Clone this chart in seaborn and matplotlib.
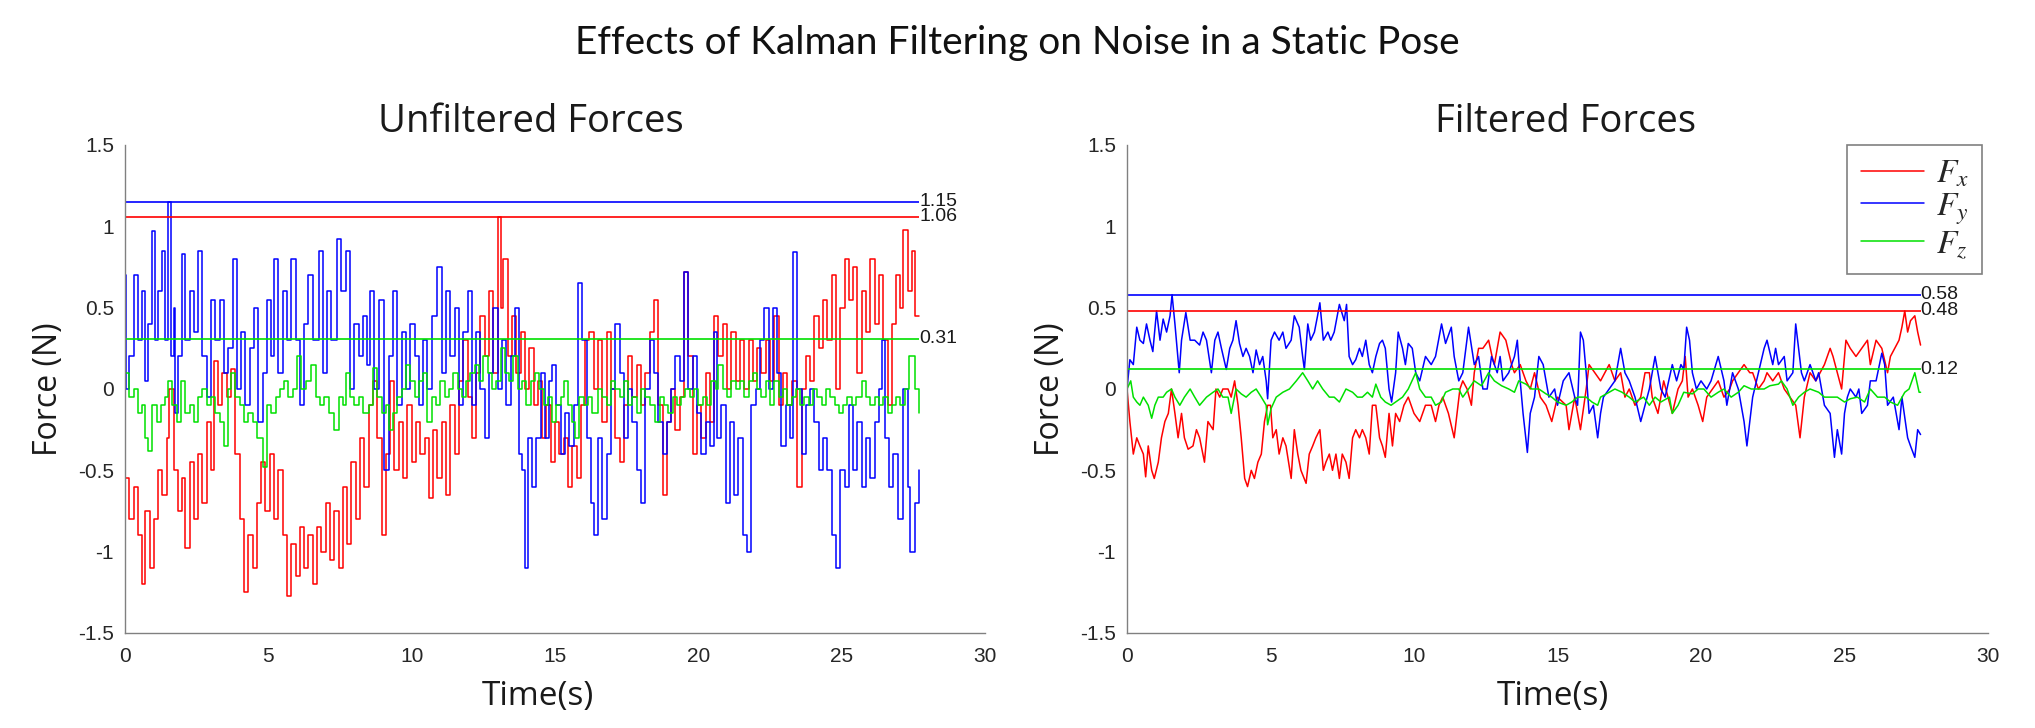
import numpy as np
import pandas as pd
import matplotlib
matplotlib.use("Agg")
import matplotlib.pyplot as plt
import seaborn as sns

# ---- data (time in s, force in N) ----
raw_fx_t = [0.0, 0.15, 0.3, 0.45, 0.58, 0.7, 0.87, 1.0, 1.15, 1.3, 1.45, 1.55, 1.7, 1.85, 2.0, 2.1,
            2.25, 2.4, 2.55, 2.7, 2.85, 3.0, 3.1, 3.25, 3.4, 3.55, 3.7, 3.85, 4.0, 4.15, 4.3, 4.45,
            4.6, 4.75, 4.9, 5.05, 5.2, 5.35, 5.5, 5.65, 5.8, 5.95, 6.1, 6.25, 6.4, 6.55, 6.7, 6.85,
            7.0, 7.15, 7.3, 7.45, 7.6, 7.75, 7.9, 8.05, 8.2, 8.35, 8.5, 8.65, 8.8, 8.95, 9.1, 9.25,
            9.4, 9.55, 9.7, 9.85, 10.0, 10.15, 10.3, 10.45, 10.6, 10.75, 10.9, 11.05, 11.2, 11.35,
            11.5, 11.65, 11.8, 11.95, 12.1, 12.25, 12.4, 12.55, 12.7, 12.85, 13.0, 13.1, 13.2, 13.35,
            13.5, 13.65, 13.8, 13.95, 14.1, 14.25, 14.4, 14.55, 14.7, 14.85, 15.0, 15.15, 15.3, 15.45,
            15.6, 15.75, 15.9, 16.05, 16.2, 16.35, 16.5, 16.65, 16.8, 16.95, 17.1, 17.25, 17.4, 17.55,
            17.7, 17.85, 18.0, 18.15, 18.3, 18.45, 18.6, 18.75, 18.9, 19.05, 19.2, 19.35, 19.5, 19.65,
            19.8, 19.95, 20.1, 20.25, 20.4, 20.55, 20.7, 20.85, 21.0, 21.15, 21.3, 21.45, 21.6, 21.75,
            21.9, 22.05, 22.2, 22.35, 22.5, 22.65, 22.8, 22.95, 23.1, 23.25, 23.45, 23.6, 23.75, 23.9,
            24.05, 24.2, 24.35, 24.5, 24.65, 24.8, 24.95, 25.1, 25.25, 25.4, 25.55, 25.7, 25.85, 26.0,
            26.15, 26.3, 26.45, 26.6, 26.75, 26.9, 27.05, 27.15, 27.3, 27.45, 27.55, 27.7]
raw_fx_v = [-0.55, -0.8, -0.6, -0.9, -1.2, -0.75, -1.1, -0.8, -0.5, -0.65, -0.3, 0.0, -0.5, -0.75, -0.55, -0.98,
            -0.45, -0.8, -0.4, -0.7, -0.2, -0.5, 0.17, -0.1, 0.1, -0.05, 0.12, -0.4, -0.8, -1.25, -0.9, -1.1,
            -0.7, -0.45, -0.75, -0.4, -0.8, -0.5, -0.9, -1.27, -0.95, -1.15, -0.85, -1.1, -0.9, -1.2, -0.85, -1.0,
            -0.7, -1.05, -0.75, -1.1, -0.6, -0.95, -0.45, -0.8, -0.3, -0.6, -0.1, 0.05, -0.3, -0.9, -0.4, 0.05,
            -0.5, -0.2, -0.55, -0.1, -0.45, -0.2, -0.4, -0.3, -0.67, -0.25, -0.55, -0.2, -0.65, -0.1,
            -0.4, 0.05, 0.3, -0.05, -0.3, 0.1, 0.45, 0.2, 0.6, 0.1, 1.06, 0.5, 0.8, 0.2,
            0.45, 0.1, 0.35, 0.0, 0.25, -0.1, 0.05, -0.3, -0.1, -0.45, -0.2, -0.4, -0.3, -0.6,
            -0.35, -0.55, -0.1, 0.3, 0.35, 0.0, 0.3, -0.2, 0.35, 0.0, -0.3, -0.45, -0.1, 0.2,
            -0.05, 0.15, -0.1, 0.1, 0.35, 0.55, -0.1, -0.65, -0.2, 0.0, -0.25, -0.05, 0.72, 0.2,
            -0.4, -0.1, -0.3, 0.1, -0.2, 0.45, 0.2, 0.4, 0.0, 0.35, 0.05, 0.3, 0.0, 0.3,
            0.05, 0.25, 0.1, 0.3, 0.05, 0.45, -0.1, 0.1, -0.1, 0.05, -0.6, 0.0, 0.2, 0.05,
            0.45, 0.25, 0.55, 0.3, 0.7, 0.0, 0.5, 0.8, 0.55, 0.75, 0.1, 0.6, 0.35, 0.8,
            0.4, 0.7, 0.3, -0.1, 0.4, 0.7, 0.5, 0.98, 0.6, 0.85, 0.45, 0.45]

raw_fy_t = [0.0, 0.05, 0.15, 0.3, 0.45, 0.6, 0.7, 0.8, 0.93, 1.05, 1.15, 1.28, 1.4, 1.51, 1.6, 1.7,
            1.75, 1.85, 1.98, 2.1, 2.25, 2.4, 2.56, 2.7, 2.85, 3.0, 3.15, 3.3, 3.45, 3.6, 3.78, 3.9,
            4.05, 4.2, 4.35, 4.5, 4.65, 4.8, 4.95, 5.1, 5.2, 5.35, 5.5, 5.65, 5.8, 5.95, 6.1, 6.25,
            6.4, 6.55, 6.75, 6.9, 7.05, 7.2, 7.4, 7.55, 7.7, 7.85, 8.0, 8.15, 8.3, 8.45, 8.55, 8.7,
            8.85, 9.05, 9.2, 9.35, 9.5, 9.65, 9.8, 9.95, 10.1, 10.25, 10.4, 10.55, 10.7, 10.9, 11.05,
            11.2, 11.35, 11.5, 11.65, 11.8, 11.97, 12.1, 12.25, 12.4, 12.55, 12.7, 12.85, 13.0, 13.15,
            13.3, 13.45, 13.6, 13.75, 13.85, 13.95, 14.05, 14.2, 14.35, 14.5, 14.65, 14.8, 14.9, 15.05,
            15.2, 15.35, 15.5, 15.65, 15.8, 15.95, 16.1, 16.25, 16.35, 16.5, 16.65, 16.8, 16.95, 17.1,
            17.25, 17.4, 17.55, 17.7, 17.85, 18.0, 18.15, 18.3, 18.45, 18.6, 18.75, 18.9, 19.05, 19.2,
            19.35, 19.5, 19.65, 19.8, 19.95, 20.1, 20.25, 20.4, 20.55, 20.65, 20.8, 20.95, 21.1, 21.25,
            21.4, 21.55, 21.7, 21.85, 22.0, 22.15, 22.3, 22.45, 22.6, 22.75, 22.9, 23.05, 23.2, 23.3,
            23.45, 23.6, 23.75, 23.9, 24.05, 24.2, 24.35, 24.5, 24.65, 24.8, 24.95, 25.1, 25.25, 25.4,
            25.55, 25.7, 25.85, 26.0, 26.15, 26.3, 26.4, 26.5, 26.65, 26.8, 26.95, 27.15, 27.3, 27.4,
            27.55, 27.7]
raw_fy_v = [0.7, 0.0, 0.2, 0.7, 0.3, 0.6, 0.05, 0.4, 0.97, 0.3, 0.6, 0.85, 0.3, 1.15, 0.2, 0.5,
            -0.15, 0.2, 0.83, 0.3, 0.6, 0.35, 0.85, 0.2, -0.05, 0.55, 0.3, 0.55, 0.1, 0.25, 0.8, 0.0,
            0.35, -0.1, 0.25, 0.5, -0.2, 0.1, 0.55, 0.2, 0.8, 0.1, 0.6, 0.3, 0.8, 0.3, -0.1, 0.4,
            0.7, 0.3, 0.85, 0.1, 0.6, 0.3, 0.92, 0.6, 0.85, 0.0, 0.4, 0.2, 0.45, 0.15, 0.6, 0.0,
            0.55, -0.5, 0.2, 0.6, -0.1, 0.35, 0.0, 0.4, 0.2, -0.1, 0.3, 0.0, 0.45, 0.75, 0.1,
            0.6, 0.2, 0.5, -0.1, 0.35, 0.6, -0.1, 0.35, 0.0, -0.3, 0.1, 0.5, 0.0, 0.3,
            -0.1, 0.2, 0.5, -0.4, -0.5, -1.1, -0.3, -0.6, -0.3, 0.1, -0.3, 0.05, 0.15, -0.1,
            -0.4, -0.15, -0.35, -0.1, 0.65, 0.3, -0.3, -0.7, -0.9, -0.3, -0.8, -0.4, 0.0, 0.4,
            0.1, -0.3, 0.0, -0.2, -0.5, -0.7, 0.0, 0.3, 0.1, -0.2, -0.4, -0.2, 0.0, 0.2,
            0.05, 0.72, 0.0, 0.2, -0.15, -0.4, -0.2, -0.35, 0.35, -0.3, -0.1, -0.7, -0.2, -0.65,
            -0.3, -0.9, -1.0, -0.1, 0.0, 0.3, 0.5, 0.0, 0.5, 0.1, -0.35, -0.1, -0.3, 0.84,
            0.0, -0.4, -0.1, 0.0, -0.2, -0.5, -0.3, -0.5, -0.9, -1.1, -0.5, -0.6, -0.1, -0.5,
            -0.2, -0.6, -0.3, -0.55, -0.2, 0.0, 0.3, -0.3, -0.6, -0.4, -0.8, 0.0, -0.6, -1.0,
            -0.7, -0.5]

raw_fz_t = [0.0, 0.15, 0.3, 0.45, 0.6, 0.7, 0.8, 0.95, 1.1, 1.25, 1.4, 1.5, 1.65, 1.8, 1.95, 2.1,
            2.25, 2.4, 2.55, 2.7, 2.85, 3.0, 3.15, 3.3, 3.45, 3.6, 3.7, 3.85, 4.0, 4.15, 4.3, 4.45,
            4.6, 4.8, 4.95, 5.1, 5.25, 5.4, 5.55, 5.7, 5.85, 6.0, 6.15, 6.3, 6.5, 6.65, 6.8, 6.95,
            7.1, 7.3, 7.45, 7.6, 7.7, 7.85, 8.0, 8.15, 8.3, 8.5, 8.65, 8.8, 8.95, 9.1, 9.2, 9.35,
            9.5, 9.65, 9.8, 9.95, 10.1, 10.25, 10.4, 10.55, 10.7, 10.85, 11.0, 11.15, 11.3, 11.45,
            11.6, 11.75, 11.9, 12.05, 12.2, 12.35, 12.5, 12.65, 12.8, 12.95, 13.1, 13.25, 13.4, 13.55,
            13.7, 13.85, 14.0, 14.15, 14.3, 14.45, 14.6, 14.75, 14.9, 15.05, 15.2, 15.3, 15.45, 15.6,
            15.7, 15.85, 16.0, 16.15, 16.3, 16.5, 16.65, 16.8, 16.95, 17.1, 17.25, 17.4, 17.55, 17.7,
            17.85, 18.0, 18.15, 18.3, 18.5, 18.65, 18.8, 18.95, 19.1, 19.25, 19.4, 19.55, 19.7, 19.85,
            20.0, 20.15, 20.3, 20.45, 20.6, 20.7, 20.85, 21.0, 21.15, 21.3, 21.45, 21.6, 21.75, 21.9,
            22.05, 22.2, 22.35, 22.5, 22.65, 22.8, 22.95, 23.1, 23.25, 23.4, 23.55, 23.7, 23.85, 24.0,
            24.15, 24.3, 24.45, 24.6, 24.75, 24.9, 25.05, 25.2, 25.35, 25.5, 25.7, 25.85, 26.0, 26.15,
            26.3, 26.45, 26.6, 26.75, 26.9, 27.05, 27.2, 27.35, 27.45, 27.55, 27.7]
raw_fz_v = [0.1, -0.05, 0.0, -0.15, -0.1, -0.3, -0.38, -0.1, -0.2, -0.1, -0.05, 0.05, -0.1, -0.2, 0.05, -0.15,
            -0.1, -0.2, -0.05, 0.0, -0.1, -0.05, -0.15, -0.2, -0.35, 0.0, 0.1, -0.05, -0.1, -0.2, -0.15, -0.2,
            -0.3, -0.48, -0.1, -0.15, -0.05, 0.0, 0.05, -0.05, 0.0, 0.2, 0.0, 0.05, 0.15, -0.05, -0.1, -0.05,
            -0.15, -0.25, -0.05, -0.1, 0.1, -0.05, -0.1, -0.05, -0.15, -0.1, 0.13, -0.05, -0.15, -0.1, -0.25, -0.15,
            -0.05, 0.0, 0.15, 0.05, -0.05, 0.05, 0.1, -0.2, -0.05, -0.1, 0.05, -0.05, 0.0, 0.1,
            0.0, -0.05, 0.05, 0.1, 0.15, 0.05, 0.2, 0.1, 0.0, 0.05, 0.25, 0.1, 0.05, 0.2,
            0.0, 0.05, -0.1, 0.05, 0.1, 0.0, -0.1, -0.05, -0.2, -0.1, -0.05, 0.05, -0.1, -0.2,
            -0.3, -0.05, -0.1, -0.05, -0.15, 0.0, -0.05, -0.1, 0.05, 0.0, -0.05, 0.05, -0.1, -0.05,
            -0.15, 0.0, -0.05, -0.1, -0.2, -0.05, -0.1, -0.15, -0.05, -0.1, -0.05, 0.0, -0.05, 0.0,
            -0.1, -0.05, -0.1, 0.05, 0.0, 0.15, 0.0, -0.05, 0.05, 0.0, 0.05, -0.05, 0.05, 0.1,
            0.0, -0.05, 0.05, -0.1, 0.05, -0.05, 0.0, -0.1, -0.05, 0.0, -0.1, -0.05, -0.1, 0.0,
            -0.05, -0.1, 0.0, -0.05, -0.1, -0.15, -0.1, -0.05, -0.1, -0.05, 0.05, -0.05, -0.1, -0.05,
            -0.1, -0.05, -0.15, -0.1, -0.05, -0.1, 0.0, 0.2, 0.2, 0.0, -0.15]

flt_fx_t = [0.0, 0.1, 0.22, 0.34, 0.45, 0.57, 0.65, 0.74, 0.86, 0.95, 1.09, 1.2, 1.32, 1.44, 1.55, 1.67,
            1.78, 1.9, 2.0, 2.13, 2.3, 2.42, 2.53, 2.7, 2.82, 3.0, 3.1, 3.23, 3.34, 3.52, 3.63, 3.75,
            3.87, 3.98, 4.1, 4.2, 4.33, 4.44, 4.56, 4.68, 4.79, 4.9, 5.0, 5.08, 5.2, 5.3, 5.43, 5.54,
            5.72, 5.83, 5.95, 6.06, 6.24, 6.35, 6.47, 6.58, 6.72, 6.84, 6.93, 7.05, 7.16, 7.28, 7.4,
            7.5, 7.63, 7.74, 7.86, 7.97, 8.1, 8.2, 8.32, 8.44, 8.55, 8.67, 8.8, 8.9, 9.0, 9.13, 9.25,
            9.36, 9.5, 9.65, 9.8, 10.0, 10.2, 10.4, 10.6, 10.75, 10.87, 11.0, 11.2, 11.4, 11.6, 11.7,
            11.85, 12.0, 12.1, 12.25, 12.4, 12.6, 12.72, 12.8, 13.0, 13.2, 13.4, 13.5, 13.7, 13.9,
            14.05, 14.2, 14.4, 14.6, 14.8, 15.0, 15.3, 15.4, 15.6, 15.8, 16.0, 16.1, 16.3, 16.5,
            16.65, 16.8, 17.0, 17.2, 17.35, 17.5, 17.7, 17.9, 18.05, 18.2, 18.3, 18.5, 18.7, 18.85,
            19.0, 19.2, 19.35, 19.45, 19.55, 19.7, 19.9, 20.06, 20.2, 20.4, 20.6, 20.8, 21.0, 21.1,
            21.3, 21.5, 21.7, 21.8, 22.0, 22.2, 22.3, 22.5, 22.7, 22.9, 23.1, 23.3, 23.45, 23.6,
            23.8, 24.0, 24.3, 24.5, 24.6, 24.75, 24.9, 25.05, 25.2, 25.4, 25.6, 25.8, 25.9, 26.1,
            26.3, 26.5, 26.6, 26.9, 27.0, 27.1, 27.2, 27.3, 27.45, 27.55, 27.65]
flt_fx_v = [0.0, -0.2, -0.4, -0.3, -0.35, -0.4, -0.54, -0.35, -0.5, -0.55, -0.45, -0.3, -0.2, -0.15, 0.0, -0.15,
            -0.3, -0.15, -0.3, -0.37, -0.35, -0.25, -0.3, -0.45, -0.2, -0.25, 0.0, -0.05, 0.0, 0.0, -0.05, 0.05,
            -0.1, -0.3, -0.55, -0.6, -0.5, -0.55, -0.45, -0.4, -0.2, -0.1, -0.1, -0.3, -0.25, -0.4, -0.3, -0.35,
            -0.55, -0.25, -0.4, -0.5, -0.58, -0.4, -0.35, -0.3, -0.25, -0.5, -0.45, -0.4, -0.5, -0.4, -0.55,
            -0.4, -0.45, -0.55, -0.3, -0.25, -0.3, -0.25, -0.3, -0.4, -0.1, -0.1, -0.3, -0.35, -0.42, -0.15, -0.35,
            -0.15, -0.2, -0.1, -0.05, -0.15, -0.2, -0.1, -0.1, -0.2, -0.1, -0.05, -0.15, -0.3, 0.0, 0.05,
            0.0, -0.1, 0.1, 0.25, 0.25, 0.3, 0.2, 0.15, 0.35, 0.3, 0.15, 0.1, 0.15, 0.05,
            0.0, 0.1, -0.05, -0.1, -0.2, -0.05, -0.1, -0.25, -0.05, -0.25, 0.0, 0.15, 0.1, 0.05,
            0.1, 0.15, 0.05, 0.1, -0.05, 0.0, -0.1, -0.05, 0.1, 0.1, -0.05, -0.15, 0.05, -0.05,
            -0.15, 0.0, 0.05, 0.2, -0.05, 0.0, -0.1, -0.2, -0.05, 0.0, 0.05, -0.05, 0.0, 0.05,
            0.1, 0.15, 0.1, 0.1, 0.0, 0.05, 0.1, 0.05, 0.1, 0.0, -0.05, -0.1, -0.3, -0.05,
            0.1, 0.05, 0.15, 0.25, 0.2, 0.1, 0.0, 0.3, 0.25, 0.2, 0.25, 0.3, 0.15, 0.3,
            0.25, 0.1, 0.2, 0.3, 0.38, 0.48, 0.35, 0.42, 0.45, 0.35, 0.27]

flt_fy_t = [0.0, 0.1, 0.22, 0.34, 0.45, 0.57, 0.68, 0.8, 0.9, 1.03, 1.15, 1.26, 1.38, 1.5, 1.57, 1.67,
            1.72, 1.82, 1.9, 2.05, 2.2, 2.36, 2.53, 2.65, 2.77, 2.94, 3.06, 3.17, 3.29, 3.46, 3.58, 3.69,
            3.8, 3.92, 4.04, 4.15, 4.27, 4.39, 4.5, 4.62, 4.73, 4.85, 4.9, 5.02, 5.14, 5.3, 5.43, 5.54,
            5.72, 5.83, 6.0, 6.12, 6.18, 6.3, 6.4, 6.53, 6.64, 6.72, 6.84, 7.0, 7.1, 7.22, 7.4, 7.57,
            7.65, 7.74, 7.86, 7.97, 8.1, 8.2, 8.32, 8.44, 8.55, 8.67, 8.8, 8.9, 9.0, 9.13, 9.22, 9.36,
            9.45, 9.6, 9.7, 9.8, 9.94, 10.06, 10.2, 10.4, 10.6, 10.75, 10.96, 11.1, 11.3, 11.4, 11.56,
            11.7, 11.9, 12.1, 12.25, 12.4, 12.55, 12.7, 12.9, 13.0, 13.1, 13.3, 13.5, 13.6, 13.7, 13.8,
            13.95, 14.05, 14.2, 14.35, 14.5, 14.7, 14.9, 15.0, 15.2, 15.4, 15.6, 15.7, 15.8, 15.9, 16.0,
            16.1, 16.25, 16.4, 16.5, 16.6, 16.8, 17.0, 17.2, 17.35, 17.5, 17.7, 17.9, 18.05, 18.2, 18.4,
            18.6, 18.75, 19.0, 19.15, 19.3, 19.4, 19.5, 19.6, 19.7, 19.84, 20.0, 20.2, 20.35, 20.6, 20.8,
            20.9, 21.1, 21.3, 21.5, 21.6, 21.8, 22.0, 22.2, 22.3, 22.5, 22.6, 22.7, 22.9, 23.0, 23.2,
            23.3, 23.5, 23.6, 23.8, 24.0, 24.1, 24.3, 24.5, 24.65, 24.75, 24.9, 25.0, 25.1, 25.2, 25.4,
            25.5, 25.6, 25.8, 25.9, 26.1, 26.3, 26.4, 26.5, 26.7, 26.9, 27.0, 27.2, 27.3, 27.45, 27.55,
            27.65]
flt_fy_v = [0.0, 0.18, 0.15, 0.38, 0.3, 0.28, 0.4, 0.3, 0.23, 0.48, 0.3, 0.43, 0.35, 0.45, 0.58, 0.4,
            0.3, 0.1, 0.3, 0.47, 0.3, 0.3, 0.27, 0.35, 0.3, 0.1, 0.3, 0.35, 0.25, 0.12, 0.25, 0.3,
            0.42, 0.28, 0.2, 0.25, 0.2, 0.1, 0.24, 0.15, 0.2, 0.05, -0.06, 0.3, 0.35, 0.3, 0.35, 0.25,
            0.3, 0.45, 0.38, 0.2, 0.12, 0.4, 0.3, 0.35, 0.45, 0.53, 0.3, 0.35, 0.3, 0.35, 0.52, 0.42,
            0.52, 0.2, 0.15, 0.18, 0.25, 0.2, 0.3, 0.15, 0.1, 0.2, 0.28, 0.3, 0.25, 0.0, -0.08, 0.1,
            0.35, 0.25, 0.15, 0.28, 0.25, 0.1, 0.05, 0.2, 0.15, 0.2, 0.4, 0.28, 0.38, 0.2, 0.05,
            0.1, 0.38, 0.15, 0.2, 0.0, 0.0, 0.2, 0.1, 0.2, 0.05, 0.1, 0.2, 0.3, 0.05, -0.15,
            -0.39, -0.15, -0.05, 0.2, 0.15, -0.05, 0.0, -0.1, 0.05, 0.1, -0.05, -0.1, 0.35, 0.3, 0.1,
            -0.15, -0.1, -0.3, -0.15, -0.05, 0.0, 0.05, 0.25, 0.1, 0.05, -0.05, -0.2, -0.1, 0.0, 0.2,
            0.0, -0.05, 0.15, 0.05, 0.15, 0.12, 0.38, 0.3, 0.1, 0.0, 0.05, 0.0, 0.05, 0.2, 0.05,
            -0.1, 0.1, 0.0, -0.2, -0.35, -0.05, 0.1, 0.25, 0.3, 0.15, 0.25, 0.15, 0.2, 0.05, 0.1,
            0.4, 0.1, 0.05, 0.15, 0.05, 0.1, -0.1, -0.15, -0.42, -0.25, -0.4, -0.15, -0.05, 0.0, -0.05,
            0.0, -0.15, -0.1, 0.05, 0.05, 0.22, 0.15, -0.1, -0.05, -0.25, -0.05, -0.3, -0.35, -0.42, -0.25,
            -0.28]

flt_fz_t = [0.0, 0.13, 0.22, 0.34, 0.45, 0.57, 0.74, 0.86, 0.97, 1.09, 1.26, 1.38, 1.55, 1.67, 1.84, 2.0,
            2.2, 2.36, 2.53, 2.77, 3.0, 3.17, 3.34, 3.52, 3.63, 3.8, 3.98, 4.15, 4.33, 4.5, 4.68, 4.85,
            4.9, 5.02, 5.2, 5.43, 5.66, 5.9, 6.12, 6.3, 6.47, 6.64, 6.82, 7.05, 7.22, 7.4, 7.63, 7.86,
            8.03, 8.2, 8.38, 8.55, 8.67, 8.84, 9.0, 9.2, 9.36, 9.6, 9.8, 10.06, 10.2, 10.4, 10.6, 10.75,
            10.95, 11.1, 11.35, 11.56, 11.7, 11.9, 12.1, 12.35, 12.6, 12.8, 13.05, 13.3, 13.5, 13.65,
            13.9, 14.1, 14.35, 14.6, 14.8, 15.0, 15.3, 15.5, 15.7, 16.0, 16.2, 16.4, 16.5, 16.8, 17.0,
            17.25, 17.5, 17.7, 18.0, 18.2, 18.4, 18.6, 18.9, 19.0, 19.2, 19.4, 19.7, 19.9, 20.1, 20.35,
            20.6, 20.8, 21.05, 21.3, 21.5, 21.75, 22.0, 22.2, 22.4, 22.7, 22.8, 23.0, 23.2, 23.4, 23.6,
            23.8, 24.1, 24.3, 24.5, 24.75, 25.0, 25.2, 25.45, 25.7, 25.9, 26.15, 26.4, 26.6, 26.85,
            27.1, 27.25, 27.45, 27.6, 27.65]
flt_fz_v = [0.0, 0.05, -0.05, -0.08, -0.1, -0.05, -0.1, -0.18, -0.1, -0.05, -0.05, -0.02, 0.0, -0.05, -0.1, -0.05,
            0.0, -0.05, -0.1, -0.05, -0.02, 0.0, -0.05, -0.05, -0.15, 0.0, -0.03, -0.05, -0.02, 0.0, -0.05, -0.1,
            -0.22, -0.12, -0.05, -0.02, 0.0, 0.05, 0.1, 0.05, 0.0, 0.05, 0.0, -0.05, -0.05, -0.08, 0.0, -0.02,
            -0.05, -0.05, -0.02, -0.05, 0.03, -0.05, -0.08, -0.1, -0.08, -0.05, 0.0, 0.1, 0.0, -0.05, -0.05, -0.1,
            -0.08, -0.02, 0.0, 0.0, -0.05, 0.0, 0.05, 0.02, 0.1, 0.05, 0.02, 0.0, -0.02, 0.05,
            0.03, 0.0, 0.0, -0.03, -0.05, -0.08, -0.1, -0.08, -0.05, -0.05, -0.08, -0.1, -0.05, -0.02, 0.0,
            -0.02, -0.05, -0.08, -0.05, -0.1, -0.05, -0.08, -0.05, -0.15, -0.1, -0.02, -0.03, 0.0, 0.0, -0.05,
            -0.02, 0.0, -0.05, -0.02, 0.02, 0.0, 0.0, 0.0, 0.02, 0.03, 0.05, 0.0, -0.1, -0.05, -0.02,
            0.0, -0.02, -0.05, -0.05, -0.05, -0.08, -0.06, -0.05, -0.08, 0.0, -0.05, -0.05, -0.08, -0.1,
            -0.02, 0.0, 0.1, -0.02, -0.02]

# peak markers shown on each panel (Fx, Fy, Fz)
raw_peaks = [1.06, 1.15, 0.31]
flt_peaks = [0.48, 0.58, 0.12]
peak_labels_raw = ["1.06", "1.15", "0.31"]
peak_labels_flt = ["0.48", "0.58", "0.12"]

series_names = [r"$F_x$", r"$F_y$", r"$F_z$"]
xticks = [0, 5, 10, 15, 20, 25, 30]
xtick_labels = ["0", "5", "10", "15", "20", "25", "30"]
yticks = [-1.5, -1, -0.5, 0, 0.5, 1, 1.5]
ytick_labels = ["-1.5", "-1", "-0.5", "0", "0.5", "1", "1.5"]

colors = ["#ff0000", "#0000ff", "#00e000"]

sns.set_style("white")
plt.rcParams["font.family"] = ["Liberation Sans", "DejaVu Sans"]
plt.rcParams["mathtext.fontset"] = "stix"

fig = plt.figure(figsize=(20.35, 7.28), dpi=100)
ax1 = fig.add_axes([125 / 2035, 1 - 633 / 728, 860 / 2035, 488 / 728])
ax2 = fig.add_axes([1127 / 2035, 1 - 633 / 728, 861 / 2035, 488 / 728])

raw = [(raw_fx_t, raw_fx_v), (raw_fy_t, raw_fy_v), (raw_fz_t, raw_fz_v)]
flt = [(flt_fx_t, flt_fx_v), (flt_fy_t, flt_fy_v), (flt_fz_t, flt_fz_v)]


def draw_panel(ax, series, peaks, peak_labels, steps, with_legend):
    for i, (t, v) in enumerate(series):
        kw = dict(drawstyle="steps-post") if steps else {}
        sns.lineplot(x=t, y=v, ax=ax, color=colors[i], lw=1.1, sort=False,
                     label=series_names[i] if with_legend else None, legend=False, **kw)
    for i, (t, v) in enumerate(series):
        ax.hlines(peaks[i], 0, t[-1], colors=colors[i], lw=1.2)
        ax.text(t[-1], peaks[i], peak_labels[i], ha="left", va="center",
                fontsize=14, color="#1a1a1a")
    ax.set_xlim(0, 30)
    ax.set_ylim(-1.5, 1.5)
    ax.set_xticks(xticks)
    ax.set_xticklabels(xtick_labels)
    ax.set_yticks(yticks)
    ax.set_yticklabels(ytick_labels)
    ax.tick_params(direction="in", length=6, width=0.8, colors="#808080",
                   labelcolor="#262626", labelsize=15)
    ax.tick_params(axis="x", pad=10)
    ax.tick_params(axis="y", pad=8)
    for s in ["top", "right"]:
        ax.spines[s].set_visible(False)
    for s in ["left", "bottom"]:
        ax.spines[s].set_color("#808080")
        ax.spines[s].set_linewidth(1.0)


draw_panel(ax1, raw, raw_peaks, peak_labels_raw, True, False)
draw_panel(ax2, flt, flt_peaks, peak_labels_flt, False, True)

for ax, title, tx, lx in [(ax1, "Unfiltered Forces", 0.472, 0.48),
                          (ax2, "Filtered Forces", 0.509, 0.495)]:
    ax.set_title(title, family="Open Sans", fontsize=27.5, x=tx, y=1.027, pad=0,
                 color="#1a1a1a")
    ax.set_xlabel("Time(s)", family="Open Sans", fontsize=24, color="#1a1a1a", va="baseline")
    ax.xaxis.set_label_coords(lx, -72 / 488)
    ax.set_ylabel("Force (N)", family="Open Sans", fontsize=23, color="#1a1a1a", va="baseline")
    ax.yaxis.set_label_coords(-68 / 860, 0.5)

leg = ax2.legend(loc="upper right", bbox_to_anchor=(1 - 6 / 861, 1.0), borderaxespad=0,
                 fontsize=24, handlelength=1.9, handletextpad=0.35, labelspacing=0.05,
                 borderpad=0.4, fancybox=False, framealpha=1)
leg.get_frame().set_edgecolor("#808080")
leg.get_frame().set_linewidth(1.2)

fig.text(0.5, 1 - 54 / 728, "Effects of Kalman Filtering on Noise in a Static Pose",
         family="Lato", fontsize=28, ha="center", va="baseline", color="#111111")

fig.savefig("out.png", dpi=100)
